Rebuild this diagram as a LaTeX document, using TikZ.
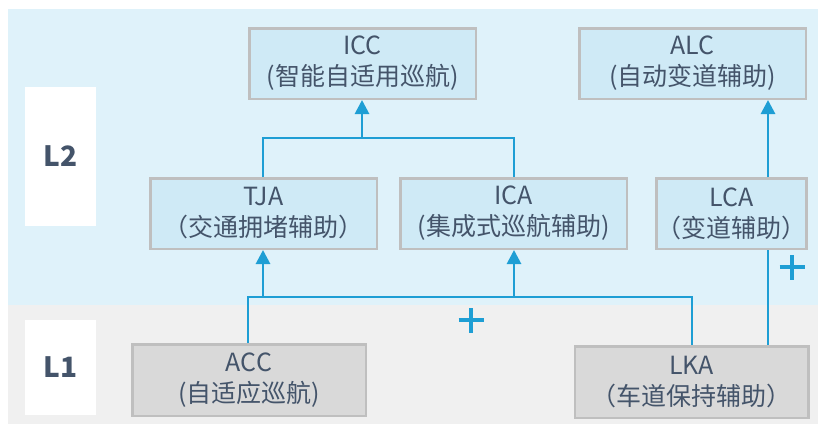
\documentclass[tikz,border=0pt]{standalone}
\usepackage{fontspec}
\setmainfont{Noto Sans CJK SC}
\usetikzlibrary{arrows.meta}
\definecolor{bandblue}{RGB}{223,242,250}
\definecolor{boxblue}{RGB}{207,234,246}
\definecolor{bordergrey}{RGB}{191,191,191}
\definecolor{bandgrey}{RGB}{240,240,240}
\definecolor{boxgrey}{RGB}{217,217,217}
\definecolor{lineblue}{RGB}{30,158,212}
\definecolor{txt}{RGB}{68,84,106}
\tikzset{
  fbox/.style={draw=bordergrey, line width=2.5pt, align=center, text=txt,
    inner sep=0pt, font=\fontsize{25}{31}\selectfont},
  l2box/.style={fbox, fill=boxblue},
  l1box/.style={fbox, fill=boxgrey},
  lvl/.style={fill=white, text=txt, font=\fontsize{28}{32}\selectfont\bfseries,
    minimum width=71pt, inner sep=0pt},
  conn/.style={draw=lineblue, line width=2.8pt},
  arr/.style={conn, -{Triangle[length=14pt,width=14pt]}},
  plus/.style={draw=lineblue, line width=4pt}
}
\begin{document}
\begin{tikzpicture}[x=1pt,y=-1pt]
\useasboundingbox (0,0) rectangle (818,424);
\fill[white] (0,0) rectangle (818,424);
\fill[bandblue] (8,9) rectangle (818,305);
\fill[bandgrey] (8,305) rectangle (818,424);
\node[lvl, minimum height=139pt] (L2) at (60.5,156.5) {L2};
\node[lvl, minimum height=95pt] (L1) at (60.5,367.5) {L1};

\node[l2box, minimum width=226.5pt, minimum height=70.5pt] (ICC) at (362.5,63.5) {ICC\\(智能自适用巡航)};
\node[l2box, minimum width=226.5pt, minimum height=70.5pt] (ALC) at (692.5,63.5) {ALC\\(自动变道辅助)};
\node[l2box, minimum width=226.5pt, minimum height=70.5pt] (TJA) at (263.5,213.5) {TJA\\（交通拥堵辅助）};
\node[l2box, minimum width=226.5pt, minimum height=70.5pt] (ICA) at (513.5,213.5) {ICA\\(集成式巡航辅助)};
\node[l2box, minimum width=148.5pt, minimum height=70.5pt] (LCA) at (731.5,213.5) {LCA\\（变道辅助）};
\node[l1box, minimum width=233.5pt, minimum height=71.5pt] (ACC) at (249,380) {ACC\\(自适应巡航)};
\node[l1box, minimum width=233.5pt, minimum height=71.5pt] (LKA) at (691.5,382) {LKA\\（车道保持辅助）};

\coordinate (jL) at (263,297);
\coordinate (jR) at (514,297);
\coordinate (jT) at (362,138);

% L1 -> L2 connections
\draw[conn] (ACC.north -| 248,0) |- (jL) -- (jR) -| (LKA.north -| 692,0);
\draw[arr] (jL) -- (TJA.south -| jL);
\draw[arr] (jR) -- (ICA.south -| jR);
% TJA/ICA -> ICC
\draw[conn] (TJA.north -| jL) |- (jT) -| (ICA.north -| jR);
\draw[arr] (jT) -- (ICC.south -| jT);
% LKA -> LCA -> ALC
\draw[conn] (LKA.north -| 768,0) -- (LCA.south -| 768,0);
\draw[arr] (LCA.north -| 768,0) -- (ALC.south -| 768,0);

% plus signs
\coordinate (p1) at (471,320);
\coordinate (p2) at (792,267);
\draw[plus] ([xshift=-12.5pt]p1) -- ([xshift=12.5pt]p1) ([yshift=-12.5pt]p1) -- ([yshift=12.5pt]p1);
\draw[plus] ([xshift=-12.5pt]p2) -- ([xshift=12.5pt]p2) ([yshift=-12.5pt]p2) -- ([yshift=12.5pt]p2);
\end{tikzpicture}
\end{document}
